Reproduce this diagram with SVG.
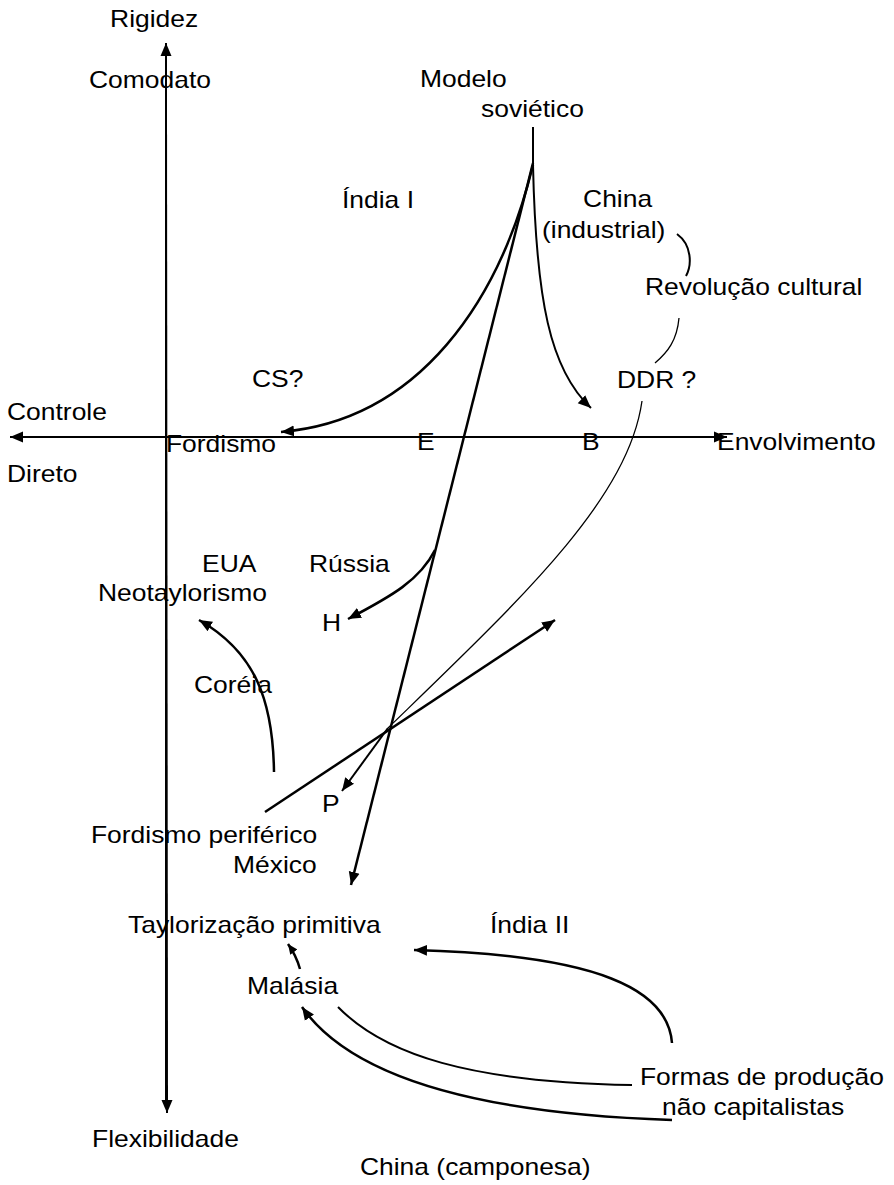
<svg xmlns="http://www.w3.org/2000/svg" width="894" height="1185" viewBox="0 0 894 1185">
<defs>
<marker id="ah" markerUnits="userSpaceOnUse" markerWidth="14" markerHeight="12" refX="13" refY="6" orient="auto">
<path d="M0,0.5 L13,6 L0,11.5 z" fill="#000"/>
</marker>
<marker id="ahs" markerUnits="userSpaceOnUse" markerWidth="11" markerHeight="10" refX="10" refY="5" orient="auto">
<path d="M0,0.5 L10,5 L0,9.5 z" fill="#000"/>
</marker>
<style>
text{font-family:"Liberation Sans",Arial,sans-serif;font-size:23px;fill:#000}
.ln{fill:none;stroke:#000;stroke-width:2.5}
.ax{fill:none;stroke:#000;stroke-width:2}
.th{fill:none;stroke:#000;stroke-width:1.3}
</style>
</defs>
<rect width="894" height="1185" fill="#fff"/>
<g id="axes">
<line class="ax" x1="166" y1="1100" x2="166" y2="43" marker-end="url(#ah)"/>
<line class="ax" x1="166" y1="100" x2="167" y2="1113" marker-end="url(#ah)"/>
<line class="ax" x1="700" y1="437" x2="10" y2="437" marker-end="url(#ah)"/>
<line class="ax" x1="60" y1="437" x2="727" y2="437" marker-end="url(#ah)"/>
</g>
<g id="connectors">
<line class="ax" x1="533" y1="127" x2="533" y2="166"/>
<path class="ln" d="M533,165 C500,300 420,420 281,432" marker-end="url(#ah)" stroke-width="3"/>
<path class="ln" d="M533,163 L351,885" marker-end="url(#ah)"/>
<path class="ax" d="M533,165 C536,300 550,370 591,408" marker-end="url(#ah)"/>
<path class="th" d="M642,401 C628,500 520,600 388,728"/>
<path class="ax" d="M388,728 L342,791" marker-end="url(#ah)"/>
<path class="ln" d="M265,812 L555,620" marker-end="url(#ah)"/>
<path class="ln" d="M274,772 C273,700 255,652 199,620" marker-end="url(#ah)"/>
<path class="ln" d="M435,550 C420,580 392,596 348,619" marker-end="url(#ah)"/>
<path class="ln" d="M300,969 Q296,955 288,944" marker-end="url(#ahs)"/>
<path class="ln" d="M672,1043 C668,990 600,955 414,950" marker-end="url(#ah)"/>
<path class="ax" d="M338,1007 C385,1055 470,1082 632,1085"/>
<path class="ln" d="M672,1120 C520,1115 360,1090 302,1007" marker-end="url(#ah)"/>
<path class="ax" d="M677,234 C692,245 692,265 686,276"/>
<path class="th" d="M679,318 C677,340 668,352 655,363"/>
</g>
<g id="labels" transform="scale(1.15,1)">
<text id="rigidez" x="95.7" y="27">Rigidez</text>
<text id="comodato" x="77.4" y="88">Comodato</text>
<text id="modelo" x="365.2" y="87">Modelo</text>
<text id="sovietico" x="418.3" y="117">soviético</text>
<text id="india1" x="297.4" y="208">Índia I</text>
<text id="china" x="507" y="207">China</text>
<text id="industrial" x="471.3" y="238">(industrial)</text>
<text id="revolucao" x="560.9" y="295">Revolução cultural</text>
<text id="cs" x="219.1" y="387">CS?</text>
<text id="ddr" x="536.5" y="388">DDR ?</text>
<text id="controle" x="6.1" y="420">Controle</text>
<text id="fordismo" x="144.3" y="452">Fordismo</text>
<text id="e" x="362.6" y="450">E</text>
<text id="b" x="506.1" y="450">B</text>
<text id="envolvimento" x="623.5" y="450">Envolvimento</text>
<text id="direto" x="6.1" y="482">Direto</text>
<text id="eua" x="175.7" y="572">EUA</text>
<text id="russia" x="268.7" y="572">Rússia</text>
<text id="neotaylorismo" x="85.2" y="601">Neotaylorismo</text>
<text id="h" x="280" y="631">H</text>
<text id="coreia" x="168.7" y="693">Coréia</text>
<text id="p" x="280" y="812">P</text>
<text id="fordper" x="79.1" y="843">Fordismo periférico</text>
<text id="mexico" x="202.6" y="873">México</text>
<text id="taylor" x="111.3" y="933">Taylorização primitiva</text>
<text id="india2" x="426.1" y="933">Índia II</text>
<text id="malasia" x="214.8" y="994">Malásia</text>
<text id="formas" x="556.5" y="1085">Formas de produção</text>
<text id="naocap" x="575.7" y="1115">não capitalistas</text>
<text id="flex" x="80" y="1147">Flexibilidade</text>
<text id="chinacamp" x="313" y="1175">China (camponesa)</text>
</g>
</svg>
